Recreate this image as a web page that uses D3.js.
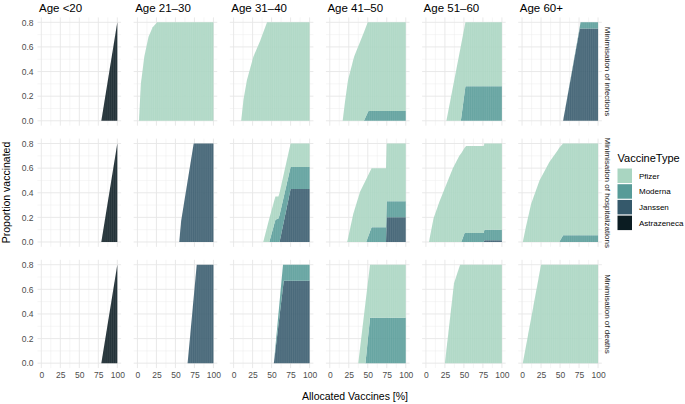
<!DOCTYPE html>
<html>
<head>
<meta charset="utf-8">
<script src="https://cdn.jsdelivr.net/npm/d3@7"></script>
<style>
body { margin: 0; background: #fff; }
text { font-family: "Liberation Sans", Arial, Helvetica, sans-serif; }
</style>
</head>
<body>
<div id="chart"></div>
<script>
// categories
var ages = ["Age <20", "Age 21\u201330", "Age 31\u201340", "Age 41\u201350", "Age 51\u201360", "Age 60+"];
var objectives = ["Minimisation of infections", "Minimisation of hospitalizations", "Minimisation of deaths"];
var vaccines = ["Pfizer", "Moderna", "Janssen", "Astrazeneca"];
var colours = ["#a9d5c1", "#579b98", "#35596b", "#0b1c22"];
var xTicks = [0, 25, 50, 75, 100];
var yTicks = [0, 0.2, 0.4, 0.6, 0.8];

// minimisation of infections (x = allocated vaccines %, values = proportion vaccinated per type)
var inf_u20 = { x: [79, 100], Astrazeneca: [0, 0.8] };
var inf_21_30 = { x: [2, 4.5, 9, 14.5, 20, 26, 100], Pfizer: [0, 0.3, 0.52, 0.68, 0.76, 0.8, 0.8] };
var inf_31_40 = { x: [10, 13, 17.5, 26, 35, 44, 100], Pfizer: [0, 0.17, 0.33, 0.52, 0.65, 0.8, 0.8] };
var inf_41_50 = { x: [17, 20, 24, 32, 45, 50, 51, 100],
    Pfizer: [0, 0.15, 0.33, 0.52, 0.72, 0.733, 0.72, 0.72],
    Moderna: [0, 0, 0, 0, 0, 0.067, 0.08, 0.08] };
var inf_51_60 = { x: [27, 46, 52, 100],
    Pfizer: [0, 0.608, 0.52, 0.52],
    Moderna: [0, 0, 0.28, 0.28] };
var inf_60p = { x: [54, 76, 77, 100],
    Moderna: [0, 0.015, 0.05, 0.05],
    Janssen: [0, 0.75, 0.75, 0.75] };

// minimisation of hospitalizations
var hosp_u20 = { x: [79, 100], Astrazeneca: [0, 0.8] };
var hosp_21_30 = { x: [55, 57.5, 74, 100], Janssen: [0, 0.17, 0.8, 0.8] };
var hosp_31_40 = { x: [39, 47, 55, 59, 60.5, 75, 100],
    Pfizer: [0, 0.19, 0.19, 0.18, 0.18, 0.19, 0.19],
    Moderna: [0, 0, 0.18, 0.19, 0.22, 0.18, 0.18],
    Janssen: [0, 0, 0, 0, 0, 0.43, 0.43] };
var hosp_41_50 = { x: [23, 31, 40, 48, 55, 74, 75, 100],
    Pfizer: [0, 0.23, 0.41, 0.51, 0.48, 0.48, 0.47, 0.47],
    Moderna: [0, 0, 0, 0, 0.12, 0.12, 0.13, 0.13],
    Janssen: [0, 0, 0, 0, 0, 0, 0.2, 0.2] };
var hosp_51_60 = { x: [4, 10, 18, 27, 35.5, 44, 46.5, 51, 53, 76, 77, 100],
    Pfizer: [0, 0.19, 0.33, 0.47, 0.6, 0.7, 0.72, 0.692, 0.707, 0.707, 0.7, 0.7],
    Moderna: [0, 0, 0, 0, 0, 0, 0, 0.073, 0.073, 0.073, 0.085, 0.085],
    Janssen: [0, 0, 0, 0, 0, 0, 0, 0, 0, 0, 0.015, 0.015] };
var hosp_60p = { x: [1, 5, 12, 23, 36, 47, 49, 54, 100],
    Pfizer: [0, 0.12, 0.31, 0.5, 0.65, 0.745, 0.765, 0.746, 0.746],
    Moderna: [0, 0, 0, 0, 0, 0, 0, 0.054, 0.054] };

// minimisation of deaths
var death_u20 = { x: [79, 100], Astrazeneca: [0, 0.8] };
var death_21_30 = { x: [66, 78, 100], Janssen: [0, 0.8, 0.8] };
var death_31_40 = { x: [53, 65, 66, 100],
    Moderna: [0, 0.18, 0.13, 0.13],
    Janssen: [0, 0.62, 0.67, 0.67] };
var death_41_50 = { x: [37.5, 47, 53, 100],
    Pfizer: [0, 0.49, 0.43, 0.43],
    Moderna: [0, 0, 0.37, 0.37] };
var death_51_60 = { x: [25, 37, 45, 100], Pfizer: [0, 0.65, 0.8, 0.8] };
var death_60p = { x: [1, 25, 100], Pfizer: [0, 0.8, 0.8] };

var panels = [
    [inf_u20, inf_21_30, inf_31_40, inf_41_50, inf_51_60, inf_60p],
    [hosp_u20, hosp_21_30, hosp_31_40, hosp_41_50, hosp_51_60, hosp_60p],
    [death_u20, death_21_30, death_31_40, death_41_50, death_51_60, death_60p]
];

// layout
var svgWidth = 685, svgHeight = 404;
var panelLeft = 37.5, panelW = 83.6, colStep = 96.15;
var panelTop = 17.4, panelH = 108.3, rowStep = 121.2;

var svg = d3.select("#chart").append("svg")
    .attr("width", svgWidth)
    .attr("height", svgHeight);

var colour = d3.scaleOrdinal().domain(vaccines).range(colours);
var stackKeys = vaccines.slice().reverse(); // Astrazeneca at the bottom, Pfizer on top

panels.forEach(function(row, r) {
    row.forEach(function(p, c) {
        var left = panelLeft + c * colStep;
        var top = panelTop + r * rowStep;
        var x = d3.scaleLinear().domain([-5, 105]).range([left, left + panelW]);
        var y = d3.scaleLinear().domain([-0.04, 0.84]).range([top + panelH, top]);
        var g = svg.append("g");

        // grid
        var xMinor = [12.5, 37.5, 62.5, 87.5], yMinor = [0.1, 0.3, 0.5, 0.7];
        g.selectAll(".vminor").data(xMinor).enter().append("line")
            .attr("x1", d => x(d)).attr("x2", d => x(d))
            .attr("y1", top).attr("y2", top + panelH)
            .attr("stroke", "#ededed").attr("stroke-width", 0.5);
        g.selectAll(".hminor").data(yMinor).enter().append("line")
            .attr("y1", d => y(d)).attr("y2", d => y(d))
            .attr("x1", left).attr("x2", left + panelW)
            .attr("stroke", "#ededed").attr("stroke-width", 0.5);
        g.selectAll(".vmajor").data(xTicks).enter().append("line")
            .attr("x1", d => x(d)).attr("x2", d => x(d))
            .attr("y1", top).attr("y2", top + panelH)
            .attr("stroke", "#e6e6e6").attr("stroke-width", 0.9);
        g.selectAll(".hmajor").data(yTicks).enter().append("line")
            .attr("y1", d => y(d)).attr("y2", d => y(d))
            .attr("x1", left).attr("x2", left + panelW)
            .attr("stroke", "#e6e6e6").attr("stroke-width", 0.9);

        // stacked areas
        var rows = p.x.map(function(xv, i) {
            var o = { x: xv };
            vaccines.forEach(function(v) { o[v] = p[v] ? p[v][i] : 0; });
            return o;
        });
        var layers = d3.stack().keys(stackKeys)(rows);
        var area = d3.area()
            .x(d => x(d.data.x))
            .y0(d => y(d[0]))
            .y1(d => y(d[1]));
        g.selectAll(".layer").data(layers).enter().append("path")
            .attr("d", area)
            .attr("fill", d => colour(d.key))
            .attr("fill-opacity", 0.9);

        // thin seams inside the filled region
        var clipId = "clip-" + r + "-" + c;
        g.append("clipPath").attr("id", clipId)
            .append("path")
            .attr("d", d3.area()
                .x(d => x(d.data.x))
                .y0(y(0))
                .y1(d => y(d[1]))(layers[layers.length - 1]));
        var seams = d3.range(0, 100.1, 2.5);
        g.append("g").attr("clip-path", "url(#" + clipId + ")")
            .selectAll("line").data(seams).enter().append("line")
            .attr("x1", d => x(d)).attr("x2", d => x(d))
            .attr("y1", top).attr("y2", top + panelH)
            .attr("stroke", "#ffffff").attr("stroke-opacity", 0.14).attr("stroke-width", 0.6);

        // axes
        if (c === 0) {
            var yAxis = g.append("g").attr("transform", `translate(${left},0)`)
                .call(d3.axisLeft(y).tickValues(yTicks).tickFormat(d3.format(".1f")).tickSize(0).tickPadding(4));
            yAxis.select(".domain").remove();
            yAxis.selectAll("text").attr("fill", "#4d4d4d").style("font-size", "8.5px")
                .style("font-family", "'Liberation Sans', Arial, sans-serif");
        }
        if (r === 2) {
            var xAxis = g.append("g").attr("transform", `translate(0,${top + panelH})`)
                .call(d3.axisBottom(x).tickValues(xTicks).tickSize(0).tickPadding(3.5));
            xAxis.select(".domain").remove();
            xAxis.selectAll("text").attr("fill", "#4d4d4d").style("font-size", "8.5px")
                .style("font-family", "'Liberation Sans', Arial, sans-serif");
        }

        // strips
        if (r === 0) {
            svg.append("text")
                .attr("x", left + 1.5).attr("y", 11.5)
                .attr("fill", "#000").style("font-size", "11.5px")
                .text(ages[c]);
        }
        if (c === 5) {
            svg.append("text")
                .attr("transform", `translate(${left + panelW + 3},${top + panelH / 2}) rotate(90)`)
                .attr("text-anchor", "middle")
                .attr("fill", "#1a1a1a").style("font-size", "8px")
                .text(objectives[r]);
        }
    });
});

// axis titles
svg.append("text")
    .attr("x", 355).attr("y", 400)
    .attr("text-anchor", "middle")
    .style("font-size", "10.5px")
    .text("Allocated Vaccines [%]");

svg.append("text")
    .attr("transform", "translate(9.5,192.5) rotate(-90)")
    .attr("text-anchor", "middle")
    .style("font-size", "10.5px")
    .text("Proportion vaccinated");

// legend
var legend = svg.append("g").attr("transform", "translate(617.5,0)");
legend.append("text").attr("x", 0).attr("y", 162).style("font-size", "11px").text("VaccineType");
var keys = legend.selectAll(".key").data(vaccines).enter().append("g")
    .attr("transform", (d, i) => `translate(0,${168.5 + i * 15.7})`);
keys.append("rect").attr("width", 14.5).attr("height", 14.5).attr("fill", d => colour(d));
keys.append("text").attr("x", 21.5).attr("y", 7.25).attr("dy", "0.35em")
    .style("font-size", "8px").text(d => d);
</script>
</body>
</html>
